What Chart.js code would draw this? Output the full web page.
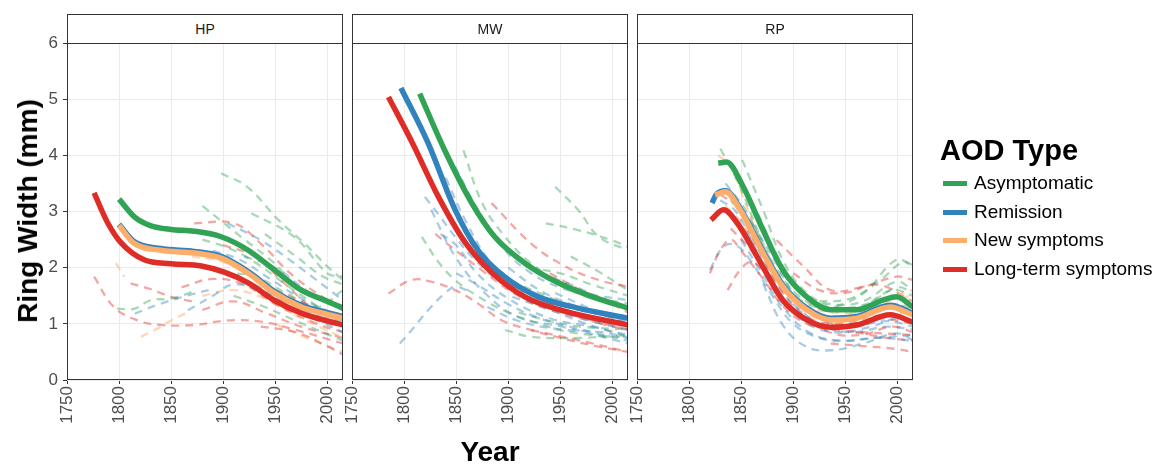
<!DOCTYPE html>
<html>
<head>
<meta charset="utf-8">
<script src="https://cdn.jsdelivr.net/npm/chart.js@4.4.1/dist/chart.umd.min.js"></script>
<style>
  html, body { margin: 0; padding: 0; background: #fff; }
  #wrap { position: relative; width: 1161px; height: 464px; overflow: hidden; font-family: "Liberation Sans", Arial, sans-serif; }
  #wrap canvas { position: absolute; left: 0; top: 0; }
  .strip { position: absolute; top: 14px; height: 30px; width: 276px; box-sizing: border-box; border: 1px solid #333; background: #fff;
           font-size: 14px; color: #1a1a1a; text-align: center; line-height: 28px; }
  #yTitle { position: absolute; left: 28px; top: 211px; transform: translate(-50%, -50%) rotate(-90deg); white-space: nowrap;
            font-size: 28px; font-weight: bold; color: #000; }
  #xTitle { position: absolute; left: 490px; top: 452px; transform: translate(-50%, -50%); font-size: 28px; font-weight: bold; color: #000; }
  #legend { position: absolute; left: 940px; top: 134px; }
  #legend .title { font-size: 29px; font-weight: bold; color: #000; margin-bottom: 2px; }
  #legend .item { position: relative; height: 28.7px; line-height: 28.7px; font-size: 19px; color: #000; padding-left: 34px; white-space: nowrap; }
  #legend .key { position: absolute; left: 3px; top: 12px; width: 24px; height: 5px; }
</style>
</head>
<body>
<div id="wrap">
  <canvas id="chartHP" width="1161" height="464"></canvas>
  <canvas id="chartMW" width="1161" height="464"></canvas>
  <canvas id="chartRP" width="1161" height="464"></canvas>
  <div class="strip" style="left:67px">HP</div>
  <div class="strip" style="left:352px">MW</div>
  <div class="strip" style="left:637px">RP</div>
  <div id="yTitle">Ring Width (mm)</div>
  <div id="xTitle">Year</div>
  <div id="legend"></div>
</div>
<script>
// --- dados ---
const panels = ['HP', 'MW', 'RP'];
const groups = ['Asymptomatic', 'Remission', 'New symptoms', 'Long-term symptoms'];
const yearMin = 1750, yearMax = 2015;
const ringMin = 0, ringMax = 6;
const yearTicks = [1750, 1800, 1850, 1900, 1950, 2000];

// curvas médias (ano, largura do anel)
const hpAsym = [[1800,3.22],[1815,2.9],[1830,2.75],[1850,2.68],[1872,2.65],[1898,2.55],[1924,2.31],[1949,1.96],[1975,1.6],[2000,1.4],[2015,1.28]];
const hpRemi = [[1800,2.77],[1814,2.47],[1840,2.34],[1872,2.29],[1898,2.2],[1924,1.93],[1949,1.58],[1975,1.33],[2000,1.2],[2015,1.13]];
const hpNew  = [[1800,2.75],[1814,2.44],[1840,2.31],[1872,2.26],[1898,2.17],[1924,1.9],[1949,1.55],[1975,1.3],[2000,1.17],[2015,1.1]];
const hpLong = [[1776,3.33],[1789,2.8],[1802,2.44],[1824,2.14],[1850,2.07],[1879,2.03],[1901,1.92],[1924,1.73],[1949,1.42],[1975,1.19],[2000,1.05],[2015,0.98]];

const mwAsym = [[1815,5.1],[1839,4.09],[1865,3.15],[1887,2.55],[1916,2.08],[1948,1.73],[1981,1.48],[2015,1.28]];
const mwRemi = [[1797,5.2],[1823,4.22],[1849,3.03],[1871,2.31],[1897,1.83],[1929,1.48],[1967,1.28],[2015,1.1]];
const mwNew  = [];
const mwLong = [[1785,5.04],[1808,4.22],[1833,3.26],[1859,2.44],[1885,1.9],[1916,1.48],[1955,1.22],[2015,0.98]];

const rpAsym = [[1828,3.86],[1836,3.88],[1852,3.44],[1871,2.67],[1890,1.96],[1913,1.48],[1936,1.25],[1961,1.25],[1986,1.42],[1999,1.48],[2015,1.3]];
const rpRemi = [[1822,3.15],[1826,3.3],[1835,3.37],[1849,3.06],[1871,2.29],[1890,1.69],[1913,1.28],[1936,1.1],[1961,1.13],[1993,1.33],[2015,1.19]];
const rpNew  = [[1825,3.29],[1835,3.35],[1849,3.03],[1871,2.26],[1890,1.66],[1913,1.25],[1936,1.07],[1961,1.1],[1993,1.3],[2015,1.16]];
const rpLong = [[1821,2.85],[1833,3.03],[1846,2.8],[1871,2.01],[1890,1.42],[1913,1.07],[1936,0.94],[1961,0.98],[1993,1.16],[2015,1.03]];

// árvores individuais (grupo, pontos)
const hpTrees = [
  ['L', [[1776,1.84],[1795,1.3],[1818,1.06],[1840,0.98],[1872,0.98],[1904,1.06],[1936,1.04],[1968,0.9],[2015,0.65]]],
  ['N', [[1797,2.08],[1805,1.84]]],
  ['N', [[1821,0.77],[1835,0.9],[1850,1.06],[1865,1.2]]],
  ['A', [[1798,1.27],[1815,1.27],[1830,1.42],[1850,1.45],[1875,1.6]]],
  ['R', [[1815,1.18],[1840,1.36],[1865,1.5],[1890,1.62]]],
  ['L', [[1811,1.72],[1830,1.62],[1850,1.48],[1870,1.4]]],
  ['A', [[1898,3.68],[1923,3.44],[1953,2.85],[1978,2.43],[2000,2.02],[2015,1.78]]],
  ['A', [[1880,3.1],[1917,2.55],[1949,2.08],[1968,1.72],[2015,1.24]]],
  ['A', [[1927,2.97],[1968,2.55],[2000,1.9],[2015,1.84]]],
  ['L', [[1872,2.79],[1910,2.79],[1936,2.43],[1968,1.84],[2015,1.24]]],
  ['R', [[1904,2.79],[1936,2.49],[1968,2.08],[2015,1.42]]],
  ['L', [[1936,0.95],[1970,0.85],[2000,0.6],[2015,0.45]]],
  ['N', [[1950,1.0],[1980,0.75],[2015,0.5]]],
  ['A', [[1880,2.5],[1905,2.35],[1930,2.1],[1960,1.7],[2015,1.0]]],
  ['R', [[1866,1.24],[1890,1.5],[1910,1.7],[1940,1.55],[1970,1.25],[2015,0.85]]],
  ['L', [[1860,1.65],[1890,1.8],[1920,1.7],[1950,1.35],[1990,1.0],[2015,0.85]]],
  ['N', [[1880,1.5],[1910,1.6],[1940,1.45],[1975,1.1],[2015,0.75]]],
  ['A', [[1900,1.9],[1930,1.85],[1960,1.55],[1990,1.3],[2015,1.6]]],
  ['R', [[1920,2.2],[1950,2.0],[1980,1.6],[2015,1.25]]],
  ['L', [[1900,2.4],[1930,2.2],[1960,1.7],[1990,1.2],[2015,0.95]]],
  ['A', [[1910,1.5],[1940,1.3],[1970,1.05],[2015,0.7]]],
  ['L', [[1950,1.6],[1980,1.35],[2015,1.05]]],
  ['R', [[1890,2.3],[1915,2.15],[1945,1.8],[1975,1.45],[2015,1.1]]],
  ['N', [[1870,2.2],[1900,2.1],[1930,1.8],[1960,1.45],[2015,1.0]]],
  ['A', [[1940,2.6],[1970,2.2],[1995,1.85],[2015,1.7]]],
  ['L', [[1880,1.25],[1910,1.4],[1940,1.2],[1975,0.95],[2015,0.75]]],
  ['R', [[1930,1.7],[1960,1.4],[1990,1.15],[2015,1.0]]]
];
const mwTrees = [
  ['L', [[1785,1.54],[1807,1.78],[1826,1.75],[1849,1.6],[1871,1.36],[1894,1.06],[1920,0.9],[1950,0.75],[1985,0.6],[2015,0.5]]],
  ['R', [[1796,0.65],[1810,0.95],[1823,1.24],[1839,1.54],[1849,1.66],[1860,1.6]]],
  ['A', [[1817,2.55],[1833,2.1],[1849,1.78],[1870,1.5],[1900,1.2],[1930,1.0],[1960,0.85],[2015,0.75]]],
  ['R', [[1820,3.26],[1835,2.9],[1849,2.55],[1870,2.1],[1900,1.65],[1940,1.3],[1980,1.1],[2015,0.95]]],
  ['R', [[1849,3.8],[1871,3.03],[1897,2.31],[1922,1.9],[1948,1.66],[1970,1.55],[2015,1.42]]],
  ['A', [[1857,4.09],[1875,3.15],[1897,2.55],[1922,2.08],[1967,1.54],[2015,1.36]]],
  ['L', [[1884,3.15],[1922,2.43],[1955,2.02],[1987,1.78],[2015,1.66]]],
  ['A', [[1945,3.44],[1967,3.03],[1987,2.55],[2015,2.31]]],
  ['A', [[1936,2.79],[1967,2.67],[1999,2.49],[2015,2.37]]],
  ['A', [[1897,0.89],[1922,0.77],[1967,0.75],[2015,0.8]]],
  ['L', [[1922,0.89],[1967,0.71],[2015,0.5]]],
  ['R', [[1904,1.48],[1940,1.25],[1975,1.0],[2015,0.77]]],
  ['R', [[1839,3.38],[1865,2.43],[1888,1.84],[1920,1.48],[1967,1.12],[2015,0.89]]],
  ['R', [[1826,3.03],[1849,2.2],[1878,1.54],[1910,1.12],[1952,0.95],[2015,0.65]]],
  ['R', [[1840,3.6],[1860,2.8],[1885,2.05],[1915,1.6],[1950,1.35],[2015,1.05]]],
  ['L', [[1830,2.6],[1850,2.3],[1875,1.95],[1905,1.55],[1940,1.25],[2015,0.9]]],
  ['A', [[1870,2.2],[1900,1.8],[1930,1.55],[1970,1.25],[2015,1.1]]],
  ['R', [[1835,2.6],[1850,2.4],[1870,1.9],[1900,1.45],[1940,1.1],[1980,0.95],[2015,0.8]]],
  ['A', [[1920,2.0],[1950,1.9],[1980,1.7],[2015,1.5]]],
  ['R', [[1930,1.9],[1960,1.7],[1990,1.45],[2015,1.3]]],
  ['L', [[1940,1.9],[1970,1.6],[2000,1.35],[2015,1.2]]],
  ['A', [[1960,2.2],[1985,1.95],[2015,1.6]]],
  ['R', [[1850,1.9],[1870,1.7],[1900,1.35],[1930,1.1],[1970,0.9],[2015,0.7]]],
  ['R', [[1900,2.0],[1930,1.6],[1960,1.35],[1990,1.2],[2015,1.1]]],
  ['R', [[1880,1.3],[1910,1.05],[1950,0.9],[1990,0.85],[2015,0.75]]],
  ['L', [[1900,1.7],[1930,1.45],[1960,1.2],[1990,1.0],[2015,0.9]]],
  ['A', [[1910,1.2],[1940,1.05],[1970,0.95],[2015,0.9]]],
  ['R', [[1945,1.55],[1975,1.3],[2000,1.1],[2015,1.0]]]
];
const rpTrees = [
  ['A', [[1830,4.12],[1849,3.44],[1871,2.43],[1891,1.72],[1913,1.36],[1936,1.3],[1967,1.54],[1999,2.14],[2015,2.02]]],
  ['A', [[1851,3.92],[1871,3.03],[1891,2.1],[1913,1.55],[1936,1.35],[1967,1.4],[1999,1.75],[2015,1.6]]],
  ['L', [[1820,1.9],[1830,2.31],[1840,2.5],[1850,2.3],[1871,1.8],[1891,1.3],[1913,1.0],[1936,0.9],[1967,0.85],[2015,0.8]]],
  ['L', [[1837,1.6],[1849,1.96],[1860,2.1],[1875,1.9]]],
  ['L', [[1884,2.49],[1910,2.02],[1936,1.6],[1967,1.66],[1999,1.84],[2015,1.78]]],
  ['R', [[1871,1.72],[1891,0.95],[1913,0.59],[1936,0.53],[1967,0.65],[1999,0.83],[2015,0.71]]],
  ['L', [[1936,0.65],[1970,0.6],[2000,0.55],[2015,0.5]]],
  ['R', [[1820,1.96],[1833,2.37],[1845,2.4],[1860,2.1],[1880,1.5],[1900,1.0],[1925,0.75],[1950,0.7],[1980,0.75],[2015,0.8]]],
  ['N', [[1828,4.0],[1840,3.8],[1855,3.1],[1875,2.2],[1895,1.55],[1920,1.2],[1950,1.15],[1985,1.4],[2015,1.5]]],
  ['R', [[1830,3.2],[1845,3.0],[1865,2.3],[1885,1.6],[1910,1.05],[1940,0.85],[1975,0.95],[2000,1.1],[2015,1.0]]],
  ['L', [[1830,3.3],[1845,3.1],[1865,2.4],[1890,1.55],[1915,1.1],[1945,1.0],[1980,1.1],[2015,1.0]]],
  ['A', [[1840,3.2],[1860,2.8],[1880,2.1],[1905,1.5],[1935,1.25],[1965,1.3],[1995,1.6],[2015,1.5]]],
  ['R', [[1835,3.5],[1855,3.0],[1875,2.2],[1900,1.45],[1930,1.1],[1965,1.15],[1995,1.35],[2015,1.25]]],
  ['L', [[1840,2.7],[1860,2.3],[1880,1.7],[1905,1.2],[1935,0.85],[1965,0.8],[1995,0.95],[2015,0.85]]],
  ['N', [[1845,2.9],[1865,2.4],[1885,1.8],[1910,1.35],[1940,1.2],[1975,1.25],[2005,1.55],[2015,1.6]]],
  ['R', [[1850,2.5],[1870,1.9],[1890,1.3],[1915,0.85],[1945,0.7],[1980,0.75],[2015,0.7]]],
  ['A', [[1925,1.4],[1955,1.45],[1985,1.8],[2005,2.1],[2015,2.05]]],
  ['L', [[1900,1.9],[1925,1.6],[1950,1.55],[1980,1.7],[2015,1.4]]],
  ['R', [[1860,2.8],[1880,2.2],[1900,1.55],[1925,1.1],[1955,0.95],[1990,1.05],[2015,0.95]]],
  ['L', [[1960,0.85],[1990,0.75],[2015,0.7]]],
  ['R', [[1840,2.9],[1860,2.5],[1880,1.85],[1905,1.25],[1935,0.95],[1970,1.0],[2000,1.2],[2015,1.15]]],
  ['N', [[1835,3.1],[1855,2.7],[1878,2.0],[1900,1.4],[1930,1.05],[1965,1.1],[2000,1.35],[2015,1.3]]],
  ['A', [[1845,3.6],[1865,3.0],[1885,2.2],[1910,1.55],[1940,1.3],[1970,1.35],[2000,1.65],[2015,1.55]]],
  ['R', [[1900,1.35],[1925,1.0],[1955,0.85],[1990,0.95],[2015,0.9]]]
];

// --- estilo ---
const solid = { A: '#31a354', R: '#3182bd', N: '#fdae6b', L: '#de2d26' };
const faded = { A: 'rgba(49,163,84,0.42)', R: 'rgba(49,130,189,0.42)', N: 'rgba(253,174,107,0.5)', L: 'rgba(222,45,38,0.42)' };
const groupKeys = ['A', 'R', 'N', 'L'];

Chart.defaults.font.family = '"Liberation Sans", Arial, sans-serif';

const toXY = pts => pts.map(([x, y]) => ({ x, y }));

function treeSets(trees) {
  return trees.map(([g, pts]) => ({
    data: toXY(pts),
    borderColor: faded[g],
    borderWidth: 2.3,
    borderDash: [8, 6],
    pointRadius: 0,
    tension: 0.4,
    order: 10
  }));
}

function meanSets(lines) {
  // verde, azul, laranja, e o vermelho fica por cima
  return lines.map((pts, i) => ({
    label: groups[i],
    data: toXY(pts),
    borderColor: solid[groupKeys[i]],
    borderWidth: 5.5,
    pointRadius: 0,
    cubicInterpolationMode: 'monotone',
    order: 4 - i
  }));
}

const frame = {
  id: 'frame',
  afterDraw(chart) {
    const { ctx, chartArea: a } = chart;
    ctx.save();
    ctx.strokeStyle = '#333';
    ctx.lineWidth = 1;
    ctx.strokeRect(Math.round(a.left) + 0.5, Math.round(a.top) + 0.5, Math.round(a.right - a.left) - 1, Math.round(a.bottom - a.top) - 1);
    ctx.restore();
  }
};

function makePanel(canvasId, left, showY, trees, lines) {
  const yW = showY ? 30 : 0;
  new Chart(document.getElementById(canvasId), {
    type: 'line',
    data: { datasets: [...treeSets(trees), ...meanSets(lines)] },
    options: {
      responsive: false,
      animation: false,
      events: [],
      layout: { padding: { left: left - yW, right: 1161 - (left + 276), top: 43, bottom: 0 } },
      plugins: { legend: { display: false }, tooltip: { enabled: false } },
      scales: {
        x: {
          type: 'linear',
          min: yearMin, max: yearMax,
          afterBuildTicks: s => { s.ticks = yearTicks.map(v => ({ value: v })); },
          afterFit: s => { s.height = 84; },
          grid: { color: '#ebebeb', tickColor: '#333', tickLength: 4 },
          border: { display: false },
          ticks: {
            autoSkip: false, minRotation: 90, maxRotation: 90,
            color: '#4d4d4d', font: { size: 17 }, padding: 2,
            callback: v => String(v)
          }
        },
        y: {
          min: ringMin, max: ringMax,
          afterFit: s => { s.width = yW; },
          grid: { color: '#ebebeb', tickColor: '#333', tickLength: 4, drawTicks: showY },
          border: { display: false },
          ticks: { display: showY, stepSize: 1, color: '#4d4d4d', font: { size: 17 }, padding: 5 }
        }
      }
    },
    plugins: [frame]
  });
}

document.addEventListener('DOMContentLoaded', () => {
  makePanel('chartHP', 67, true, hpTrees, [hpAsym, hpRemi, hpNew, hpLong]);
  makePanel('chartMW', 352, false, mwTrees, [mwAsym, mwRemi, mwNew, mwLong]);
  makePanel('chartRP', 637, false, rpTrees, [rpAsym, rpRemi, rpNew, rpLong]);

  // legenda
  const leg = document.getElementById('legend');
  leg.innerHTML = '<div class="title">AOD Type</div>' + groups.map((g, i) =>
    `<div class="item"><span class="key" style="background:${solid[groupKeys[i]]}"></span>${g}</div>`).join('');
});
</script>
</body>
</html>
